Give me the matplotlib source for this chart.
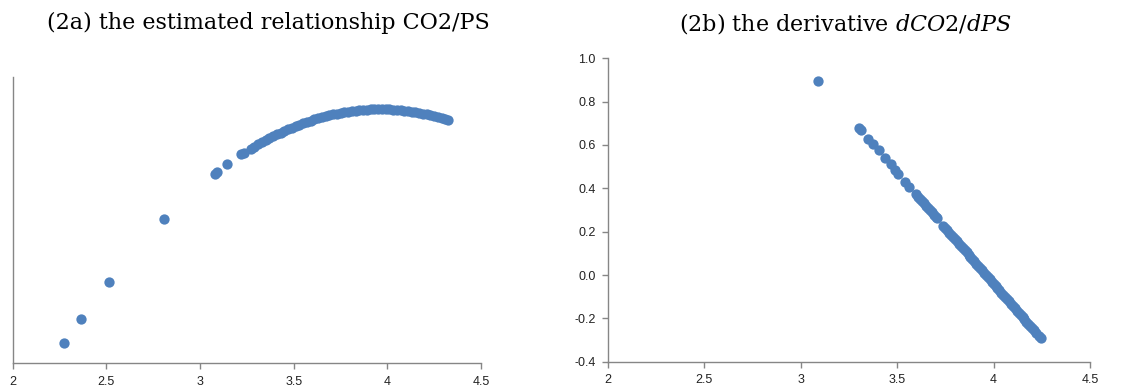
import matplotlib
matplotlib.use("Agg")
import matplotlib.pyplot as plt

# (2a) estimated relationship CO2/PS (y in arbitrary units, peak ~ 0)
ps_a = [2.275, 2.363, 2.513, 2.808, 3.080, 3.092, 3.146, 3.221, 3.237,
        3.27, 3.29, 3.31, 3.33, 3.35, 3.37, 3.39, 3.41, 3.43, 3.45,
        3.47, 3.49, 3.51, 3.53, 3.55, 3.57, 3.59, 3.61, 3.63, 3.65,
        3.67, 3.69, 3.71, 3.73, 3.75, 3.77, 3.79, 3.81, 3.83, 3.85,
        3.87, 3.89, 3.91, 3.93, 3.95, 3.97, 3.99, 4.01, 4.03, 4.05,
        4.07, 4.09, 4.11, 4.13, 4.15, 4.17, 4.19, 4.21, 4.23, 4.25,
        4.27, 4.29, 4.31, 4.322]
co2_a = [-1.45, -1.30, -1.07, -0.68, -0.40, -0.39, -0.34, -0.28, -0.27,
         -0.246, -0.232, -0.218, -0.205, -0.192, -0.180, -0.168, -0.156, -0.145, -0.134,
         -0.124, -0.114, -0.105, -0.096, -0.087, -0.079, -0.071, -0.063, -0.056, -0.050,
         -0.044, -0.038, -0.032, -0.027, -0.023, -0.019, -0.015, -0.012, -0.009, -0.006,
         -0.004, -0.003, -0.001, -0.0005, 0.0, 0.0, -0.0004, -0.001, -0.002, -0.004,
         -0.006, -0.009, -0.011, -0.015, -0.018, -0.022, -0.027, -0.032, -0.037, -0.043,
         -0.049, -0.056, -0.063, -0.067]

# (2b) derivative dCO2/dPS
ps_b = [3.088, 3.300, 3.310, 3.350, 3.376, 3.405, 3.436, 3.467, 3.488, 3.505,
        3.540, 3.562, 3.597, 3.61, 3.62, 3.63, 3.64, 3.65, 3.66, 3.67, 3.68,
        3.69, 3.70, 3.705, 3.74, 3.75, 3.76, 3.77, 3.78, 3.79, 3.80, 3.81,
        3.82, 3.83, 3.84, 3.85, 3.86, 3.87, 3.88, 3.89, 3.90, 3.91, 3.92,
        3.93, 3.94, 3.95, 3.96, 3.97, 3.98, 3.99, 4.00, 4.01, 4.02, 4.03,
        4.04, 4.05, 4.06, 4.07, 4.08, 4.09, 4.10, 4.11, 4.12, 4.13, 4.14,
        4.15, 4.16, 4.17, 4.18, 4.19, 4.20, 4.21, 4.22, 4.235, 4.245]
dco2_b = [0.897, 0.680, 0.670, 0.628, 0.603, 0.577, 0.542, 0.511, 0.485, 0.465,
          0.431, 0.408, 0.374, 0.361, 0.351, 0.341, 0.330, 0.320, 0.310, 0.299, 0.289,
          0.279, 0.269, 0.263, 0.227, 0.217, 0.207, 0.196, 0.186, 0.176, 0.166, 0.155,
          0.145, 0.135, 0.125, 0.114, 0.104, 0.094, 0.083, 0.073, 0.063, 0.053, 0.042,
          0.032, 0.022, 0.011, 0.001, -0.009, -0.020, -0.030, -0.040, -0.050, -0.061, -0.071,
          -0.081, -0.091, -0.102, -0.112, -0.122, -0.133, -0.143, -0.153, -0.164, -0.174, -0.184,
          -0.194, -0.205, -0.215, -0.225, -0.236, -0.246, -0.256, -0.267, -0.282, -0.292]

x_ticks = [2, 2.5, 3, 3.5, 4, 4.5]
x_labels = ["2", "2.5", "3", "3.5", "4", "4.5"]
y_ticks_b = [-0.4, -0.2, 0.0, 0.2, 0.4, 0.6, 0.8, 1.0]

blue = "#4F81BD"
axis_grey = "#868686"

plt.rcParams["mathtext.fontset"] = "dejavuserif"

fig = plt.figure(figsize=(11.47, 3.87), dpi=100)

def style_axes(ax):
    for s in ["top", "right"]:
        ax.spines[s].set_visible(False)
    for s in ["left", "bottom"]:
        ax.spines[s].set_color(axis_grey)
        ax.spines[s].set_linewidth(1.0)
    ax.set_xlim(2, 4.5)
    ax.set_xticks(x_ticks)
    ax.set_xticklabels(x_labels)
    ax.tick_params(axis="both", direction="out", length=4, width=1.0,
                   color=axis_grey, labelsize=9, labelcolor="#222222", pad=5)
    for lab in ax.get_xticklabels() + ax.get_yticklabels():
        lab.set_family("Liberation Sans")

# left panel
ax1 = fig.add_axes([0.0111, 0.062, 0.4083, 0.739])
ax1.scatter(ps_a, co2_a, s=55, color=blue, linewidths=0, zorder=3)
ax1.set_ylim(-1.576, 0.2)
style_axes(ax1)
ax1.set_yticks([])

# right panel
ax2 = fig.add_axes([0.5300, 0.0654, 0.4203, 0.784])
ax2.scatter(ps_b, dco2_b, s=55, color=blue, linewidths=0, zorder=3)
ax2.set_ylim(-0.4, 1.0)
ax2.set_yticks(y_ticks_b)
ax2.set_yticklabels(["%.1f" % v for v in y_ticks_b])
style_axes(ax2)

# subtitles
fig.text(0.234, 0.94, "(2a) the estimated relationship CO2/PS", ha="center", va="center",
         fontsize=16, family="DejaVu Serif")
fig.text(0.737, 0.94, "(2b) the derivative $\\mathit{dCO2}$/$\\mathit{dPS}$", ha="center",
         va="center", fontsize=16, family="DejaVu Serif")

fig.savefig("out.png", dpi=100)
